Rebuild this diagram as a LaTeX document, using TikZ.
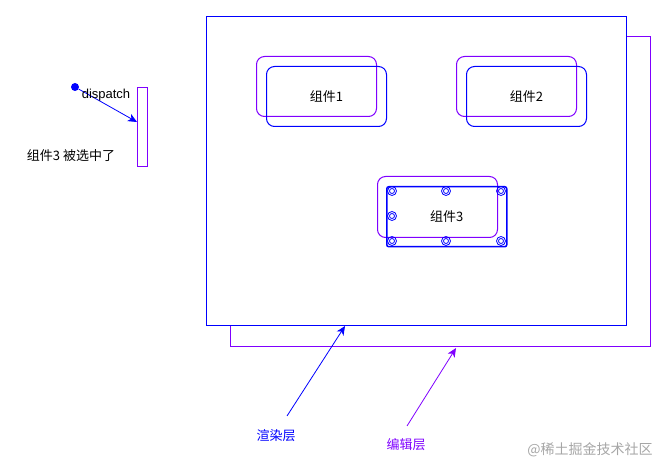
\documentclass[tikz,border=0pt]{standalone}
\usepackage{fontspec}
\setmainfont{Liberation Sans}
\newfontfamily\cjk{Noto Sans CJK SC}
\usetikzlibrary{arrows.meta}
\definecolor{renderblue}{RGB}{0,0,255}
\definecolor{editpurple}{RGB}{127,0,255}

\begin{document}
\begin{tikzpicture}[x=1pt,y=-1pt,
    font=\fontsize{13}{15}\selectfont,
    layer/.style={draw, line width=1pt, anchor=north west, inner sep=0pt,
        minimum width=420pt, minimum height=309pt},
    comp/.style={draw, line width=1pt, rounded corners=8pt, anchor=north west,
        inner sep=0pt, minimum width=120pt, minimum height=60pt},
    tip/.style={-{Stealth[length=9pt,width=8pt,inset=2.5pt]}, line width=0.8pt}
]
    \useasboundingbox (0,0) rectangle (667,473);

    % Edit layer behind, render layer in front
    \node[layer, draw=editpurple, minimum height=310pt] (edit) at (230,36) {};
    \node[layer, draw=renderblue, fill=white] (render) at (206,16) {};

    % Components 1 and 2
    \node[comp, draw=editpurple] (e1) at (256,56) {};
    \node[comp, draw=renderblue] (r1) at (266,66) {\cjk 组件1};
    \node[comp, draw=editpurple] (e2) at (456,56) {};
    \node[comp, draw=renderblue] (r2) at (466,66) {\cjk 组件2};

    % Component 3 (selected)
    \node[comp, draw=editpurple, minimum height=61pt] (e3) at (377,176) {};
    \node[comp, draw=renderblue, rounded corners=2pt, line width=1.5pt] (r3) at (386,186) {\cjk 组件3};
    \foreach \hx/\hy in {392/191, 446/191, 501/191, 392/216, 392/241, 446/241, 501/241}
        \draw[renderblue, line width=0.8pt] (\hx,\hy) circle (4.5pt) circle (2.5pt);

    % Dispatch
    \node[circle, fill=renderblue, inner sep=0pt, minimum size=8pt] (src) at (75,87) {};
    \node[draw=editpurple, line width=1pt, anchor=north west, inner sep=0pt,
        minimum width=10pt, minimum height=79pt] (bar) at (137,87) {};
    \coordinate (hit) at (137,122);
    \draw[renderblue, tip] (src) -- (hit);
    \node (dispatch) at (106,95) {dispatch};
    \node (selected) at (71,156) {\cjk 组件3 被选中了};

    % Layer labels
    \node[text=renderblue] (renderlbl) at (276,436) {\cjk 渲染层};
    \node[text=editpurple] (editlbl) at (406,445) {\cjk 编辑层};
    \coordinate (rtail) at (287,416);
    \coordinate (rhead) at (345,326);
    \coordinate (etail) at (407,426);
    \coordinate (ehead) at (456,348);
    \draw[renderblue, tip] (rtail) -- (rhead);
    \draw[editpurple, tip] (etail) -- (ehead);

    % Watermark
    \node[text=black!35, font=\fontsize{14}{16}\selectfont] (mark) at (590,450) {\cjk @稀土掘金技术社区};

\end{tikzpicture}
\end{document}
